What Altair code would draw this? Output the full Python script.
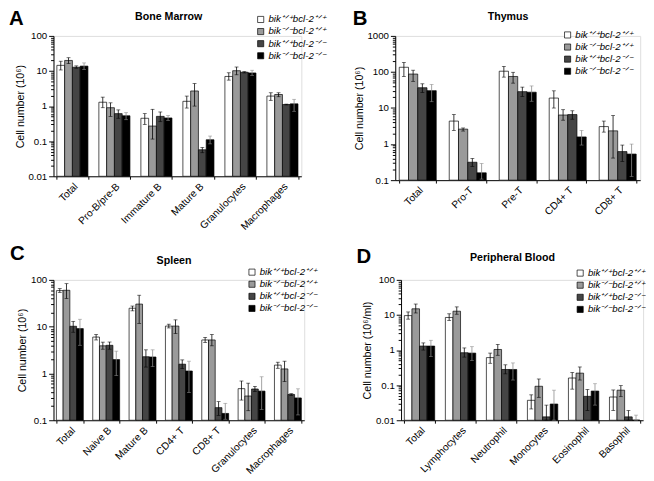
import altair as alt
import pandas as pd

FONT = "Liberation Sans"

genotypes = ["bik⁺ᐟ⁺bcl-2⁺ᐟ⁺", "bik⁻ᐟ⁻bcl-2⁺ᐟ⁺", "bik⁺ᐟ⁺bcl-2⁻ᐟ⁻", "bik⁻ᐟ⁻bcl-2⁻ᐟ⁻"]
fills = ["#ffffff", "#9a9a9a", "#454545", "#000000"]

# ---------- A: Bone Marrow ----------
bm_cats = ["Total", "Pro-B/pre-B", "Immature B", "Mature B", "Granulocytes", "Macrophages"]
bm_mean = [
    [14.5, 1.29, 0.45, 1.37, 7.0, 1.93],
    [20.0, 0.90, 0.27, 2.70, 10.2, 2.14],
    [12.8, 0.61, 0.51, 0.057, 9.2, 1.11],
    [13.8, 0.53, 0.46, 0.11, 8.8, 1.16],
]
bm_lo = [
    [10.7, 0.90, 0.30, 0.88, 5.5, 1.46],
    [16.3, 0.51, 0.115, 1.00, 7.8, 1.85],
    [12.0, 0.45, 0.36, 0.047, 8.8, 1.08],
    [11.0, 0.41, 0.39, 0.084, 7.5, 0.71],
]
bm_hi = [
    [19.0, 1.80, 0.61, 1.93, 8.9, 2.40],
    [23.9, 1.24, 0.81, 4.40, 13.0, 2.40],
    [14.0, 0.78, 0.68, 0.066, 9.6, 1.14],
    [17.0, 0.65, 0.54, 0.14, 10.5, 1.56],
]

# ---------- B: Thymus ----------
th_cats = ["Total", "Pro-T", "Pre-T", "CD4+ T", "CD8+ T"]
th_mean = [
    [135, 4.35, 105, 18.9, 3.06],
    [87.6, 2.6, 75, 6.4, 2.33],
    [36.6, 0.314, 28.5, 6.6, 0.62],
    [30.4, 0.16, 27.5, 1.58, 0.53],
]
th_lo = [
    [75, 2.4, 72, 10.0, 2.15],
    [55, 2.3, 49, 4.6, 0.41],
    [27, 0.24, 21, 4.9, 0.33],
    [15, 0.107, 15.4, 0.94, 0.126],
]
th_hi = [
    [184, 6.6, 143, 30, 4.35],
    [112, 2.8, 98, 9.0, 6.2],
    [47, 0.40, 38, 8.4, 0.94],
    [45, 0.29, 41, 2.4, 1.0],
]

# ---------- C: Spleen ----------
sp_cats = ["Total", "Naive B", "Mature B", "CD4+ T", "CD8+ T", "Granulocytes", "Macrophages"]
sp_mean = [
    [59, 6.0, 24.8, 10.3, 5.2, 0.474, 1.51],
    [60, 3.9, 30.4, 10.3, 5.2, 0.33, 1.25],
    [10.2, 4.0, 2.28, 1.58, 0.186, 0.466, 0.356],
    [9.1, 1.98, 2.25, 1.13, 0.14, 0.42, 0.30],
]
sp_lo = [
    [54, 5.2, 21.8, 9.4, 4.6, 0.27, 1.29],
    [40, 3.3, 11.7, 7.1, 3.9, 0.16, 0.67],
    [7.6, 3.3, 1.37, 1.27, 0.127, 0.41, 0.34],
    [4.0, 0.9, 1.4, 0.39, 0.105, 0.17, 0.13],
]
sp_hi = [
    [65, 6.8, 27.6, 11.3, 5.9, 0.69, 1.74],
    [83, 4.67, 47, 14.0, 6.8, 0.62, 1.83],
    [13, 4.7, 3.2, 1.95, 0.25, 0.53, 0.37],
    [14.4, 3.0, 3.2, 1.83, 0.23, 0.85, 0.47],
]

# ---------- D: Peripheral Blood ----------
pb_cats = ["Total", "Lymphocytes", "Neutrophil", "Monocytes", "Eosinophil", "Basophil"]
pb_mean = [
    [9.6, 8.5, 0.61, 0.037, 0.16, 0.046],
    [15.0, 12.8, 1.04, 0.093, 0.22, 0.072],
    [1.3, 0.84, 0.28, 0.0125, 0.048, 0.0125],
    [1.3, 0.82, 0.28, 0.029, 0.068, 0.0101],
]
pb_lo = [
    [7.6, 7.0, 0.42, 0.021, 0.077, 0.019],
    [11.4, 10.5, 0.71, 0.045, 0.14, 0.047],
    [1.0, 0.63, 0.21, 0.0101, 0.019, 0.0101],
    [0.65, 0.50, 0.14, 0.0101, 0.027, 0.0101],
]
pb_hi = [
    [12.2, 10.8, 0.82, 0.053, 0.23, 0.073],
    [20.5, 17.0, 1.45, 0.15, 0.33, 0.097],
    [1.6, 1.15, 0.38, 0.027, 0.075, 0.019],
    [1.9, 1.25, 0.43, 0.072, 0.11, 0.014],
]

DECADE_TEST = "abs(log(datum.value)/LN10 - round(log(datum.value)/LN10)) < 0.001"


def log_ticks(lo_exp, hi_exp):
    vals = []
    for e in range(lo_exp, hi_exp):
        for m in range(1, 10):
            vals.append(round(m * 10 ** e, 6))
    vals.append(round(10 ** hi_exp, 6))
    return vals


def panel(letter, name, cats, mean, lo, hi, exps, ytitle, w, h,
          letter_pos, name_y, legend_pos, name_dx=0):
    rows = []
    for gi, g in enumerate(genotypes):
        for ci, c in enumerate(cats):
            rows.append({"cat": c, "geno": g, "gi": gi,
                         "mean": mean[gi][ci], "lo": lo[gi][ci], "hi": hi[gi][ci]})
    df = pd.DataFrame(rows)
    domain = [10 ** exps[0], 10 ** exps[1]]
    yscale = alt.Scale(type="log", domain=domain, nice=False)
    yaxis = alt.Axis(title=ytitle, values=log_ticks(exps[0], exps[1]),
                     labelExpr=DECADE_TEST + " ? format(datum.value, '~g') : ''",
                     tickSize={"condition": {"test": DECADE_TEST, "value": 5}, "value": 3},
                     labelFontSize=10, labelFont=FONT, titleFont=FONT,
                     titleFontSize=11, titleFontWeight="normal", titlePadding=3,
                     labelPadding=2, domainColor="black", tickColor="black",
                     labelColor="black", titleColor="black", grid=False)
    xenc = alt.X("cat:N", sort=cats,
                 scale=alt.Scale(paddingInner=0.26, paddingOuter=0.08),
                 axis=alt.Axis(title=None, labelAngle=-45, tickBand="extent",
                               labelFontSize=10.5, labelFont=FONT, tickSize=3,
                               labelPadding=2, domainColor="black", tickColor="black",
                               labelColor="black"))
    xoff = alt.XOffset("geno:N", sort=genotypes, scale=alt.Scale(domain=genotypes))
    base = alt.Chart(df)
    bars = base.mark_bar(stroke="black", strokeWidth=0.7).encode(
        x=xenc,
        xOffset=xoff,
        y=alt.Y("mean:Q", scale=yscale, axis=yaxis, stack=None),
        color=alt.Color("geno:N", sort=genotypes,
                        scale=alt.Scale(domain=genotypes, range=fills),
                        legend=alt.Legend(title=None, orient="none",
                                          legendX=legend_pos[0], legendY=legend_pos[1],
                                          symbolType="square", symbolSize=40,
                                          symbolStrokeColor="black", symbolStrokeWidth=0.7,
                                          symbolOpacity=1,
                                          labelFontStyle="italic", labelFontSize=10,
                                          labelFont=FONT, labelColor="black",
                                          rowPadding=2.5, labelLimit=0, labelOffset=3)),
    )
    layers = [bars]
    for cond, col in [("datum.gi < 3", "black"), ("datum.gi == 3", "#8a8a8a")]:
        eb = base.transform_filter(cond)
        layers.append(eb.mark_rule(color=col, strokeWidth=0.8).encode(
            x=xenc, xOffset=xoff,
            y=alt.Y("lo:Q", scale=yscale, axis=yaxis), y2="hi:Q"))
        for f in ["lo", "hi"]:
            layers.append(eb.mark_tick(color=col, thickness=0.8, size=4).encode(
                x=xenc, xOffset=xoff,
                y=alt.Y(f + ":Q", scale=yscale, axis=yaxis)))
    letter_txt = alt.Chart(alt.Data(values=[{"t": letter}])).mark_text(
        font=FONT, fontSize=21, fontWeight="bold", align="left", baseline="alphabetic",
        color="black").encode(text="t:N", x=alt.value(letter_pos[0]), y=alt.value(letter_pos[1]))
    name_txt = alt.Chart(alt.Data(values=[{"t": name}])).mark_text(
        font=FONT, fontSize=11, fontWeight="bold", align="center", baseline="alphabetic",
        color="black").encode(text="t:N", x=alt.value(w / 2 + name_dx), y=alt.value(name_y))
    layers += [letter_txt, name_txt]
    return alt.layer(*layers).properties(width=w, height=h)


A = panel("A", "Bone Marrow", bm_cats, bm_mean, bm_lo, bm_hi, (-2, 2),
          "Cell number (10⁶)", 256, 145, (-46, -11), -16, (209, -22), name_dx=-9)
B = panel("B", "Thymus", th_cats, th_mean, th_lo, th_hi, (-1, 3),
          "Cell number (10⁶)", 253, 149, (-44, -11), -16, (173, -6), name_dx=-10)
C = panel("C", "Spleen", sp_cats, sp_mean, sp_lo, sp_hi, (-1, 2),
          "Cell number (10⁶)", 259, 145, (-45, -21), -16, (200, -13), name_dx=-5)
D = panel("D", "Peripheral Blood", pb_cats, pb_mean, pb_lo, pb_hi, (-2, 2),
          "Cell number (10⁶/ml)", 250, 145, (-46, -17), -19, (180, -12), name_dx=-10)

RES = dict(color="independent", x="independent", y="independent", xOffset="independent")

top = alt.hconcat(A, B, spacing=26).resolve_scale(**RES)
bottom = alt.hconcat(C, D, spacing=39).resolve_scale(**RES)
chart = alt.vconcat(top, bottom, spacing=10).resolve_scale(**RES).properties(
    padding={"left": 0, "top": -8, "right": 0, "bottom": 0}
).configure_view(stroke=None).configure(font=FONT)

chart.save("out.html", embed_options={"renderer": "svg", "actions": False})
